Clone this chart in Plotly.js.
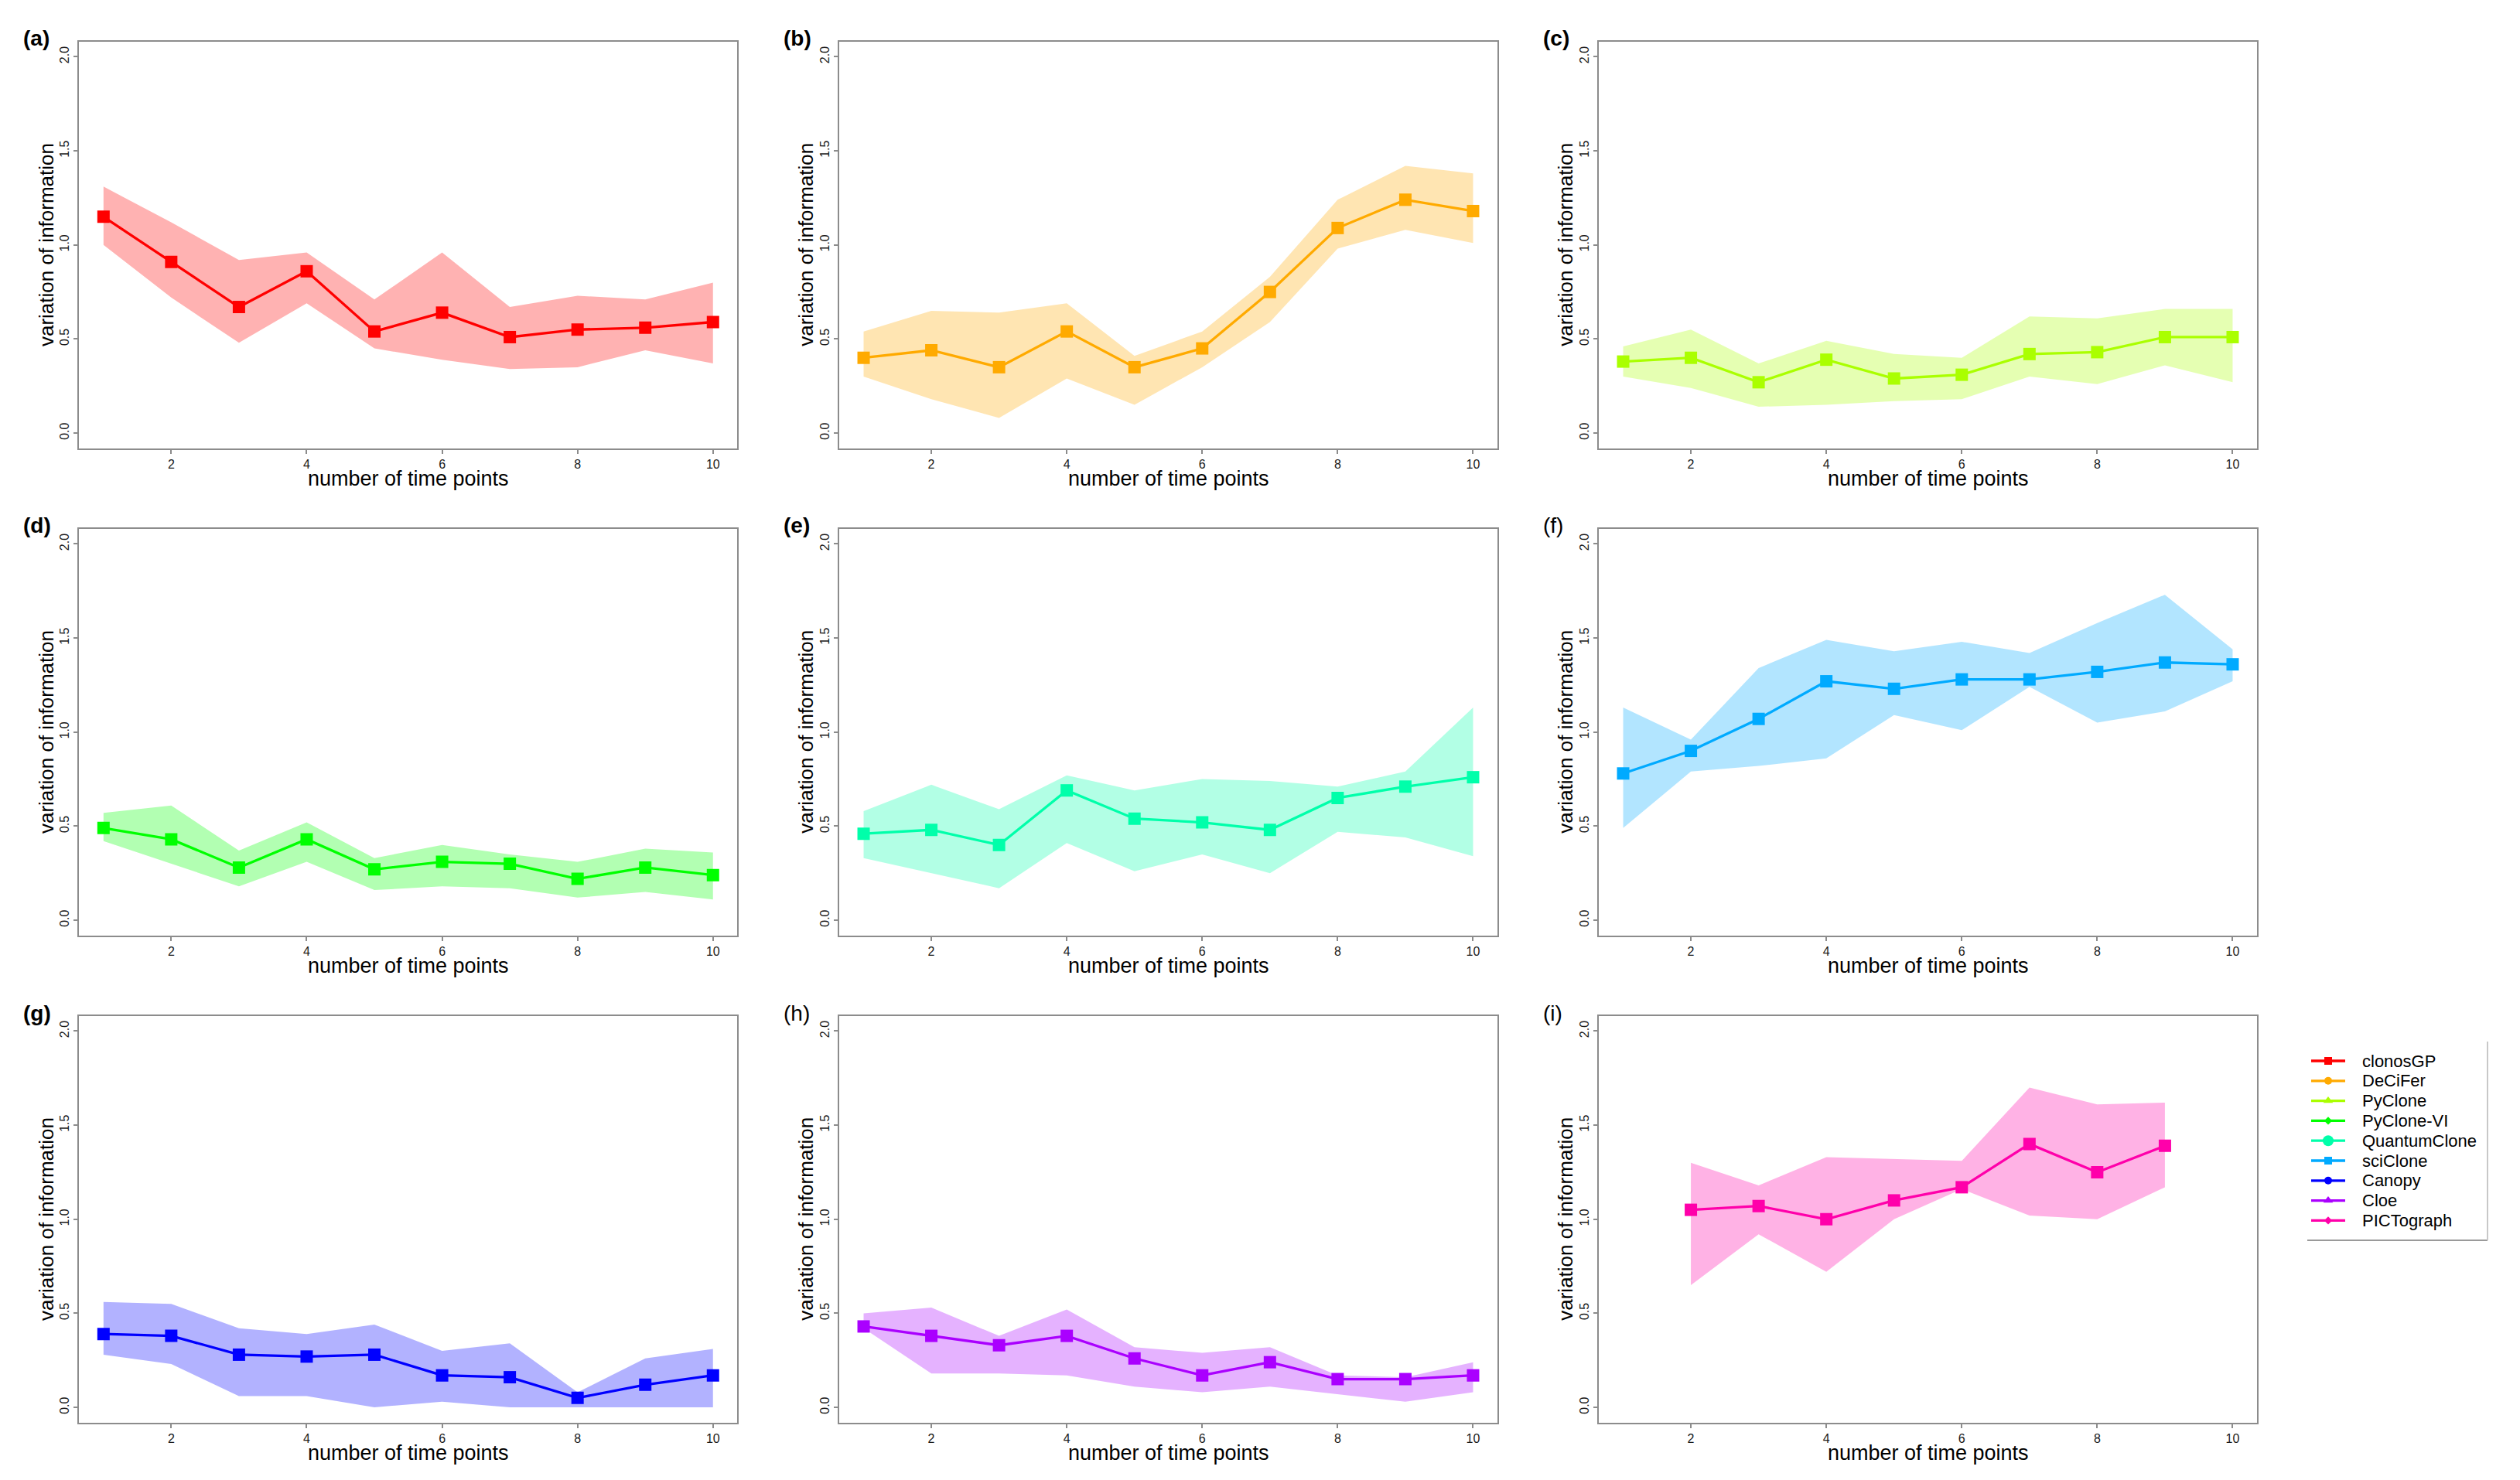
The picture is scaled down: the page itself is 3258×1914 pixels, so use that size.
<!DOCTYPE html>
<html>
<head>
<meta charset="utf-8">
<script src="https://cdn.plot.ly/plotly-3.0.1.min.js"></script>
<style>
  html, body { margin: 0; padding: 0; background: #ffffff; }
  #chart { width: 3258px; height: 1914px; }
</style>
</head>
<body>
<div id="chart"></div>
<script>
// ---------------- DATA ----------------
const timePoints = [1, 2, 3, 4, 5, 6, 7, 8, 9, 10];
const timePointsPICTograph = [2, 3, 4, 5, 6, 7, 8, 9];

const methods = ["clonosGP", "DeCiFer", "PyClone", "PyClone-VI", "QuantumClone", "sciClone", "Canopy", "Cloe", "PICTograph"];
const panelLabels = ["(a)", "(b)", "(c)", "(d)", "(e)", "(f)", "(g)", "(h)", "(i)"];
const panelLabelBold = [true, true, true, true, true, false, true, false, false];
const methodColors = ["#FF0000", "#FFAA00", "#AAFF00", "#00FF00", "#00FFAA", "#00AAFF", "#0000FF", "#AA00FF", "#FF00AA"];
const legendSymbols = ["square", "circle", "triangle-up", "diamond", "circle", "square", "circle", "triangle-up", "diamond"];
const legendSymbolSizes = [10, 10, 11, 8, 14, 10, 10, 11, 8];

const yTickVals = [0, 0.5, 1.0, 1.5, 2.0];
const yTickText = ["0.0", "0.5", "1.0", "1.5", "2.0"];
const xTickVals = [2, 4, 6, 8, 10];
const xTickText = ["2", "4", "6", "8", "10"];
const xTitle = "number of time points";
const yTitle = "variation of information";

const clonosGP_mean  = [1.15, 0.91, 0.67, 0.86, 0.54, 0.64, 0.51, 0.55, 0.56, 0.59];
const clonosGP_upper = [1.31, 1.12, 0.92, 0.96, 0.71, 0.96, 0.67, 0.73, 0.71, 0.80];
const clonosGP_lower = [1.00, 0.72, 0.48, 0.69, 0.45, 0.39, 0.34, 0.35, 0.44, 0.37];

const DeCiFer_mean  = [0.40, 0.44, 0.35, 0.54, 0.35, 0.45, 0.75, 1.09, 1.24, 1.18];
const DeCiFer_upper = [0.54, 0.65, 0.64, 0.69, 0.41, 0.54, 0.83, 1.24, 1.42, 1.38];
const DeCiFer_lower = [0.30, 0.18, 0.08, 0.29, 0.15, 0.35, 0.59, 0.98, 1.08, 1.01];

const PyClone_mean  = [0.38, 0.40, 0.27, 0.39, 0.29, 0.31, 0.42, 0.43, 0.51, 0.51];
const PyClone_upper = [0.46, 0.55, 0.37, 0.49, 0.42, 0.40, 0.62, 0.61, 0.66, 0.66];
const PyClone_lower = [0.30, 0.24, 0.14, 0.15, 0.17, 0.18, 0.30, 0.26, 0.36, 0.27];

const PyCloneVI_mean  = [0.49, 0.43, 0.28, 0.43, 0.27, 0.31, 0.30, 0.22, 0.28, 0.24];
const PyCloneVI_upper = [0.57, 0.61, 0.37, 0.52, 0.33, 0.40, 0.35, 0.31, 0.38, 0.36];
const PyCloneVI_lower = [0.42, 0.30, 0.18, 0.31, 0.16, 0.18, 0.17, 0.12, 0.15, 0.11];

const QuantumClone_mean  = [0.46, 0.48, 0.40, 0.69, 0.54, 0.52, 0.48, 0.65, 0.71, 0.76];
const QuantumClone_upper = [0.58, 0.72, 0.59, 0.77, 0.69, 0.75, 0.74, 0.71, 0.79, 1.13];
const QuantumClone_lower = [0.33, 0.25, 0.17, 0.41, 0.26, 0.35, 0.25, 0.47, 0.44, 0.34];

const sciClone_mean  = [0.78, 0.90, 1.07, 1.27, 1.23, 1.28, 1.28, 1.32, 1.37, 1.36];
const sciClone_upper = [1.13, 0.96, 1.34, 1.49, 1.43, 1.48, 1.42, 1.58, 1.73, 1.44];
const sciClone_lower = [0.49, 0.79, 0.82, 0.86, 1.09, 1.01, 1.24, 1.05, 1.11, 1.27];

const Canopy_mean  = [0.39, 0.38, 0.28, 0.27, 0.28, 0.17, 0.16, 0.05, 0.12, 0.17];
const Canopy_upper = [0.56, 0.55, 0.42, 0.39, 0.44, 0.30, 0.34, 0.08, 0.26, 0.31];
const Canopy_lower = [0.28, 0.23, 0.06, 0.06, 0.00, 0.03, 0.00, 0.00, 0.00, 0.00];

const Cloe_mean  = [0.43, 0.38, 0.33, 0.38, 0.26, 0.17, 0.24, 0.15, 0.15, 0.17];
const Cloe_upper = [0.50, 0.53, 0.38, 0.52, 0.32, 0.29, 0.32, 0.17, 0.16, 0.24];
const Cloe_lower = [0.42, 0.18, 0.18, 0.17, 0.11, 0.08, 0.11, 0.07, 0.03, 0.08];

const PICTograph_mean  = [1.05, 1.07, 1.00, 1.10, 1.17, 1.40, 1.25, 1.39];
const PICTograph_upper = [1.30, 1.18, 1.33, 1.32, 1.31, 1.70, 1.61, 1.62];
const PICTograph_lower = [0.65, 0.92, 0.72, 1.00, 1.16, 1.02, 1.00, 1.17];

const seriesX     = [timePoints, timePoints, timePoints, timePoints, timePoints, timePoints, timePoints, timePoints, timePointsPICTograph];
const seriesMean  = [clonosGP_mean, DeCiFer_mean, PyClone_mean, PyCloneVI_mean, QuantumClone_mean, sciClone_mean, Canopy_mean, Cloe_mean, PICTograph_mean];
const seriesUpper = [clonosGP_upper, DeCiFer_upper, PyClone_upper, PyCloneVI_upper, QuantumClone_upper, sciClone_upper, Canopy_upper, Cloe_upper, PICTograph_upper];
const seriesLower = [clonosGP_lower, DeCiFer_lower, PyClone_lower, PyCloneVI_lower, QuantumClone_lower, sciClone_lower, Canopy_lower, Cloe_lower, PICTograph_lower];

// ---------------- LAYOUT GEOMETRY (pixels) ----------------
const W = 3258, H = 1914;
const colLeft = [102.3, 1085, 2067];
const rowTop = [54, 684, 1314];
const frameW = 851, frameH = 525.5;
const FONT = "'Liberation Sans', Arial, Helvetica, sans-serif";
const frameColor = "#8c8c8c";

function px2x(p) { return p / W; }
function px2y(p) { return 1 - p / H; }
function alpha(hex, a) {
  const r = parseInt(hex.slice(1, 3), 16), g = parseInt(hex.slice(3, 5), 16), b = parseInt(hex.slice(5, 7), 16);
  return `rgba(${r},${g},${b},${a})`;
}

const traces = [];
const layout = {
  width: W, height: H,
  margin: { l: 0, r: 0, t: 0, b: 0 },
  paper_bgcolor: "#ffffff",
  plot_bgcolor: "rgba(0,0,0,0)",
  showlegend: false,
  font: { family: FONT, color: "#1a1a1a" },
  annotations: [],
  shapes: []
};

for (let k = 0; k < 9; k++) {
  const r = Math.floor(k / 3), c = k % 3;
  const n = k + 1;
  const xa = n === 1 ? "x" : "x" + n;
  const ya = n === 1 ? "y" : "y" + n;
  const xKey = n === 1 ? "xaxis" : "xaxis" + n;
  const yKey = n === 1 ? "yaxis" : "yaxis" + n;
  const L = colLeft[c], T = rowTop[r];

  layout[xKey] = {
    domain: [px2x(L), px2x(L + frameW)],
    anchor: ya,
    range: [0.64, 10.36],
    tickvals: xTickVals, ticktext: xTickText,
    ticks: "outside", ticklen: 5, tickwidth: 2, tickcolor: frameColor,
    showline: true, mirror: true, linecolor: frameColor, linewidth: 2,
    showgrid: false, zeroline: false,
    tickfont: { family: FONT, size: 16, color: "#1a1a1a" },
    fixedrange: true
  };
  layout[yKey] = {
    domain: [px2y(T + frameH), px2y(T)],
    anchor: xa,
    range: [-0.08, 2.08],
    tickvals: yTickVals, ticktext: yTickText,
    tickangle: -90,
    ticks: "outside", ticklen: 5, tickwidth: 2, tickcolor: frameColor,
    showline: true, mirror: true, linecolor: frameColor, linewidth: 2,
    showgrid: false, zeroline: false,
    tickfont: { family: FONT, size: 16, color: "#1a1a1a" },
    fixedrange: true
  };

  const col = methodColors[k];
  // band: lower then upper filled to it
  traces.push({
    x: seriesX[k], y: seriesLower[k], xaxis: xa, yaxis: ya,
    mode: "lines", line: { width: 0, color: alpha(col, 0) }, hoverinfo: "skip", showlegend: false
  });
  traces.push({
    x: seriesX[k], y: seriesUpper[k], xaxis: xa, yaxis: ya,
    mode: "lines", line: { width: 0, color: alpha(col, 0) },
    fill: "tonexty", fillcolor: alpha(col, 0.3), hoverinfo: "skip", showlegend: false
  });
  traces.push({
    x: seriesX[k], y: seriesMean[k], xaxis: xa, yaxis: ya, name: methods[k],
    mode: "lines+markers",
    line: { color: col, width: 3.3 },
    marker: { symbol: "square", size: 16, color: col },
    showlegend: false
  });

  // panel label
  layout.annotations.push({
    xref: "paper", yref: "paper", x: px2x(L - 74), y: px2y(T - 4),
    xanchor: "left", yanchor: "middle", showarrow: false,
    text: panelLabelBold[k] ? "<b>" + panelLabels[k] + "</b>" : panelLabels[k],
    font: { family: FONT, size: 28, color: "#000000" }
  });
  // x title
  layout.annotations.push({
    xref: "paper", yref: "paper", x: px2x(L + frameW / 2), y: px2y(T + frameH + 39),
    xanchor: "center", yanchor: "middle", showarrow: false,
    text: xTitle, font: { family: FONT, size: 27, color: "#000000" }
  });
  // y title
  layout.annotations.push({
    xref: "paper", yref: "paper", x: px2x(L - 43), y: px2y(T + frameH / 2),
    xanchor: "center", yanchor: "middle", showarrow: false, textangle: -90,
    text: yTitle, font: { family: FONT, size: 26, color: "#000000" }
  });
}

// ---------------- LEGEND (manual, R-style) ----------------
const legTop = 1372, legStep = 25.8;
const legLineL = 2988, legLineR = 3032, legTextX = 3052;
layout.xaxis10 = {
  domain: [px2x(legLineL), px2x(legLineR)], anchor: "y10", range: [0, 1],
  visible: false, fixedrange: true
};
layout.yaxis10 = {
  domain: [px2y(legTop + legStep * 8.5), px2y(legTop - legStep * 0.5)], anchor: "x10",
  range: [8.5, -0.5], visible: false, fixedrange: true
};
methods.forEach((m, i) => {
  traces.push({
    x: [0, 1], y: [i, i], xaxis: "x10", yaxis: "y10", mode: "lines",
    line: { color: methodColors[i], width: 3.3 }, hoverinfo: "skip", showlegend: false
  });
  traces.push({
    x: [0.5], y: [i], xaxis: "x10", yaxis: "y10", mode: "markers",
    marker: { symbol: legendSymbols[i], size: legendSymbolSizes[i], color: methodColors[i] },
    hoverinfo: "skip", showlegend: false
  });
  layout.annotations.push({
    xref: "paper", yref: "paper", x: px2x(legTextX), y: px2y(legTop + legStep * i),
    xanchor: "left", yanchor: "middle", showarrow: false,
    text: m, font: { family: FONT, size: 22, color: "#000000" }
  });
});
// legend box edges (bottom + right)
layout.shapes.push({
  type: "line", xref: "paper", yref: "paper",
  x0: px2x(2983), x1: px2x(3216), y0: px2y(1604), y1: px2y(1604),
  line: { color: "#9a9a9a", width: 2 }
});
layout.shapes.push({
  type: "line", xref: "paper", yref: "paper",
  x0: px2x(3216), x1: px2x(3216), y0: px2y(1347), y1: px2y(1604),
  line: { color: "#c8c8c8", width: 2 }
});

Plotly.newPlot("chart", traces, layout, { displayModeBar: false, staticPlot: true });
</script>
</body>
</html>
